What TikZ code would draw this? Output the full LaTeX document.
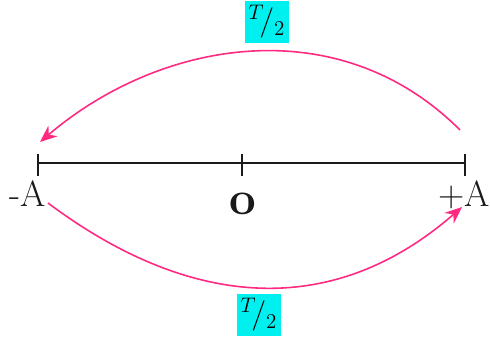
\documentclass[tikz,border=0pt]{standalone}
\usepackage{amsmath}
\usetikzlibrary{arrows.meta,positioning}
\definecolor{ink}{HTML}{1A1A1A}
\definecolor{swing}{HTML}{FF2A80}
\definecolor{tagbg}{HTML}{00F0F0}
\tikzset{
  axis/.style={draw=ink,line width=1.1pt},
  tick/.style={draw=ink,line width=1.1pt},
  poslabel/.style={font=\huge,text=ink,inner sep=0pt,anchor=base},
  halftag/.style={fill=tagbg,inner sep=1pt,font=\LARGE,
                  minimum width=0.88cm,minimum height=0.84cm},
  swingarr/.style={-{Stealth[length=3.4mm,width=2.8mm]},line width=0.9pt,
                   draw=swing}
}
\begin{document}
\begin{tikzpicture}[x=0.02cm,y=-0.02cm]
    \path[use as bounding box] (0,0) rectangle (490,340);

    % axis and ticks
    \coordinate (left) at (38,163);
    \coordinate (mid) at (242,163);
    \coordinate (right) at (465,163);
    \draw[axis] (left) -- (right);
    \draw[tick] (38,154) -- (38,176);
    \draw[tick] (242,154) -- (242,176);
    \draw[tick] (465,154) -- (465,176);

    \node[poslabel] (negA) at (28,207) {-A};
    \node[poslabel,font=\fontsize{27}{30}\selectfont\bfseries]
      (origin) at (243,215) {o};
    \node[poslabel] (posA) at (464,207) {+A};

    % half periods
    \coordinate (topstart) at (460,130);
    \coordinate (topend) at (40,142);
    \coordinate (botstart) at (48,203);
    \coordinate (botend) at (462,207);
    \draw[swingarr] (topstart) .. controls (339,9) and (161,39) .. (topend);
    \draw[swingarr] (botstart) .. controls (187,307) and (330,322) .. (botend);

    \node[halftag] (toptag) at (267,22) {${}^{T}\!/_{2}$};
    \node[halftag] (bottag) at (259,315) {${}^{T}\!/_{2}$};
  \end{tikzpicture}
\end{document}
